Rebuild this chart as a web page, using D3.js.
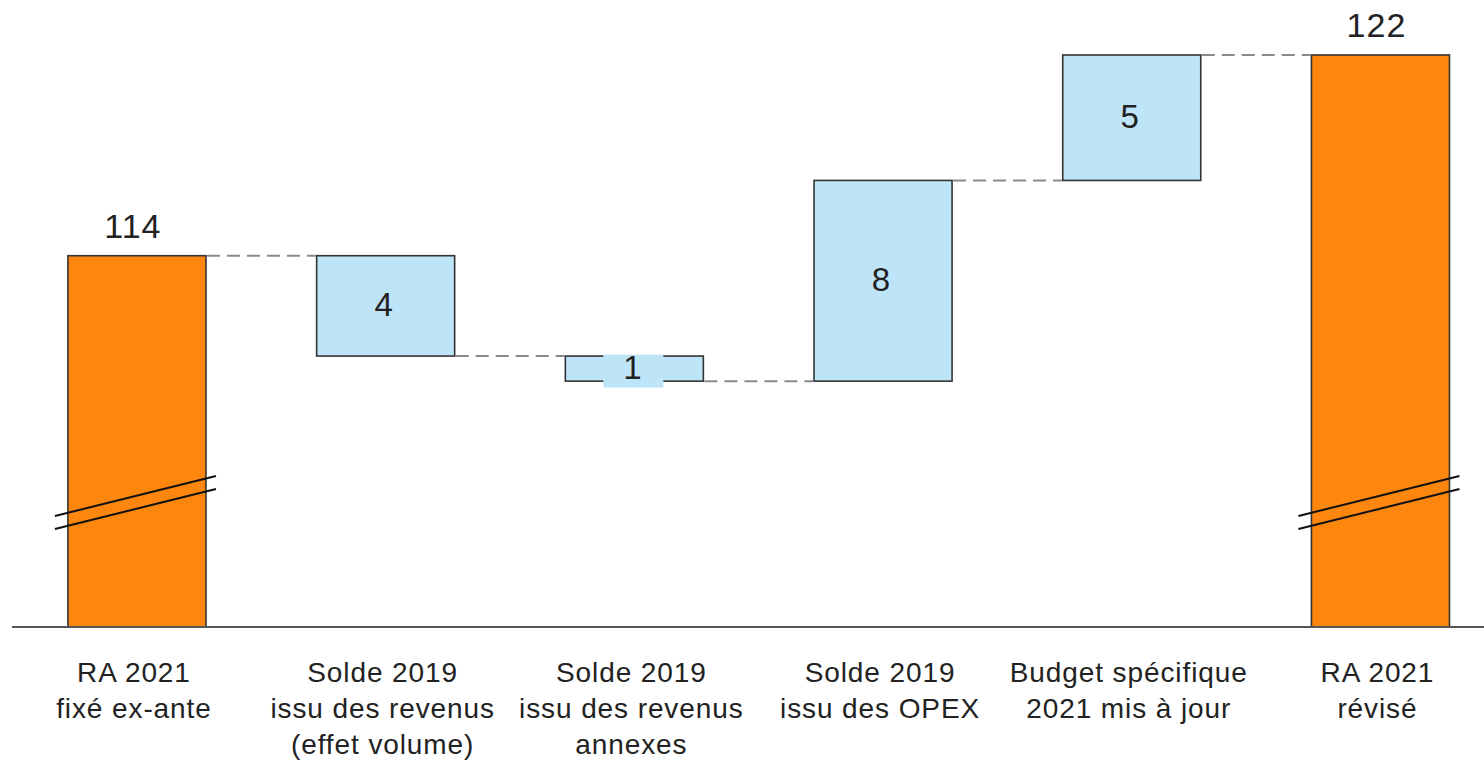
<!DOCTYPE html>
<html>
<head>
<meta charset="utf-8">
<script src="https://cdn.jsdelivr.net/npm/d3@7"></script>
<style>
  html, body { margin: 0; padding: 0; background: #fff; }
  svg { display: block; }
  text { font-family: "Liberation Sans", Arial, sans-serif; fill: #222; }
</style>
</head>
<body>
<svg id="chart" width="1484" height="761"></svg>
<script>
// ---- data ----
const categories = [
  ["RA 2021", "fixé ex-ante"],
  ["Solde 2019", "issu des revenus", "(effet volume)"],
  ["Solde 2019", "issu des revenus", "annexes"],
  ["Solde 2019", "issu des OPEX"],
  ["Budget spécifique", "2021 mis à jour"],
  ["RA 2021", "révisé"]
];
const stepValues = [114, -4, -1, 8, 5, 122];
const stepTypes  = ["total", "delta", "delta", "delta", "delta", "total"];
const valueLabels = ["114", "4", "1", "8", "5", "122"];

// ---- layout ----
const W = 1484, H = 761;
const baseY = 627, topY = 55;
const yMin = 99.2, yMax = 122;

const svg = d3.select("#chart");

const x = d3.scaleBand()
  .domain(d3.range(categories.length))
  .range([12.6, 12.6 + 248.7 * categories.length])
  .paddingInner(0.445)
  .paddingOuter(0.2225);

const y = d3.scaleLinear().domain([yMin, yMax]).range([baseY, topY]);

// compute waterfall segments
let running = 0;
const segs = stepValues.map((v, i) => {
  let lo, hi, end;
  if (stepTypes[i] === "total") {
    lo = yMin; hi = v; end = v;
  } else {
    const start = running;
    end = running + v;
    lo = Math.min(start, end); hi = Math.max(start, end);
  }
  running = end;
  return { i, v, lo, hi, end, type: stepTypes[i] };
});

// connectors
const connectors = [];
for (let i = 0; i < segs.length - 1; i++) {
  connectors.push({ x1: x(i) + x.bandwidth(), x2: x(i + 1), level: segs[i].end });
}
svg.append("g").selectAll("line").data(connectors).join("line")
  .attr("x1", d => d.x1 + 1).attr("x2", d => d.x2 - 1)
  .attr("y1", d => y(d.level)).attr("y2", d => y(d.level))
  .attr("stroke", "#8a8a8a").attr("stroke-width", 2)
  .attr("stroke-dasharray", "13,7");

// bars
svg.append("g").selectAll("rect").data(segs).join("rect")
  .attr("x", d => x(d.i))
  .attr("width", x.bandwidth())
  .attr("y", d => y(d.hi))
  .attr("height", d => y(d.lo) - y(d.hi))
  .attr("fill", d => d.type === "total" ? "#FD860F" : "#BEE4F7")
  .attr("stroke", "#333")
  .attr("stroke-width", 1.6);

// axis break marks on totals
const totals = segs.filter(d => d.type === "total");
const breakG = svg.append("g");
totals.forEach(d => {
  const x0 = x(d.i) - 13, x1 = x(d.i) + x.bandwidth() + 10;
  const yc = 496, dy = 20;
  [0, 13].forEach(off => {
    breakG.append("line")
      .attr("x1", x0).attr("x2", x1)
      .attr("y1", yc + dy + off).attr("y2", yc - dy + off)
      .attr("stroke", "#111").attr("stroke-width", 2);
  });
});

// baseline axis
svg.append("line")
  .attr("x1", 12).attr("x2", W)
  .attr("y1", baseY).attr("y2", baseY)
  .attr("stroke", "#555").attr("stroke-width", 2);

// delta labels with background boxes
const deltas = segs.filter(d => d.type === "delta");
const lg = svg.append("g");
deltas.forEach(d => {
  const cx = x(d.i) + x.bandwidth() / 2;
  const cy = (y(d.lo) + y(d.hi)) / 2;
  lg.append("rect")
    .attr("x", cx - 31).attr("y", cy - 14)
    .attr("width", 60).attr("height", 33)
    .attr("fill", "#BEE4F7");
  lg.append("text")
    .attr("x", cx - 2).attr("y", cy + 10)
    .attr("text-anchor", "middle")
    .attr("font-size", 33)
    .text(valueLabels[d.i]);
});

// total labels
svg.append("g").selectAll("text").data(totals).join("text")
  .attr("x", d => x(d.i) + x.bandwidth() / 2 - 4)
  .attr("y", d => y(d.hi) - 18)
  .attr("text-anchor", "middle")
  .attr("font-size", 34)
  .attr("letter-spacing", "1px")
  .text(d => valueLabels[d.i]);

// category labels
const cg = svg.append("g");
categories.forEach((lines, i) => {
  const cx = x(i) + x.bandwidth() / 2 - 3;
  const t = cg.append("text")
    .attr("x", cx)
    .attr("y", 682)
    .attr("text-anchor", "middle")
    .attr("font-size", 28)
    .attr("letter-spacing", "0.9px");
  lines.forEach((ln, k) => {
    t.append("tspan")
      .attr("x", cx)
      .attr("dy", k === 0 ? 0 : 36)
      .text(ln);
  });
});
</script>
</body>
</html>
